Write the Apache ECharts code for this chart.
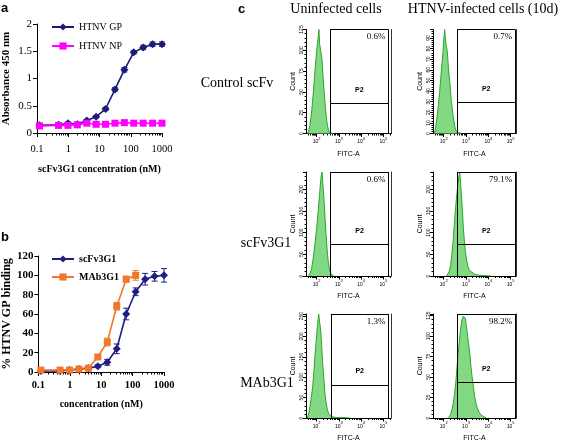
<!DOCTYPE html>
<html><head><meta charset="utf-8">
<script src="https://cdn.jsdelivr.net/npm/echarts@6/dist/echarts.min.js"></script>
<style>html,body{margin:0;padding:0;background:#fff}#c{width:567px;height:444px}</style>
</head><body><div id="c"></div>
<script>
// ---------- Panel a data ----------
const concA = [0.12, 0.49, 0.98, 1.95, 3.9, 7.8, 15.6, 31.25, 62.5, 125, 250, 500, 1000];
const gpA = [0.14, 0.15, 0.18, 0.16, 0.23, 0.30, 0.44, 0.80, 1.16, 1.48, 1.57, 1.63, 1.63];
const gpErrA = [0.02, 0.02, 0.02, 0.02, 0.02, 0.02, 0.03, 0.03, 0.04, 0.03, 0.04, 0.04, 0.04];
const npA = [0.13, 0.14, 0.14, 0.15, 0.18, 0.16, 0.16, 0.18, 0.19, 0.18, 0.18, 0.18, 0.18];
const npErrA = [0.01, 0.01, 0.01, 0.01, 0.01, 0.01, 0.01, 0.01, 0.01, 0.01, 0.01, 0.01, 0.01];
// ---------- Panel b data ----------
const concB = [0.12, 0.49, 0.98, 1.95, 3.9, 7.8, 15.6, 31.25, 62.5, 125, 250, 500, 1000];
const scfvB = [1, 1, 2, 3, 4, 6, 10, 24, 60, 83, 96, 99, 100];
const scfvErrB = [1, 1, 1, 1, 1, 1.5, 3, 5, 6, 4, 6, 5, 7];
const concMab = [0.12, 0.49, 0.98, 1.95, 3.9, 7.8, 15.6, 31.25, 62.5, 125];
const mabB = [2, 2, 2, 3, 4, 15.5, 31, 68, 96, 100];
const mabErrB = [1, 1, 1, 1, 1, 2, 4, 4, 3, 5];
const doseTicks = [0.1, 1, 10, 100, 1000];
// ---------- Panel c data (FITC-A, count) ----------
const ctrlUninf = [[38,0],[44,4],[50,10],[60,28],[71,50],[85,78],[100,99],[112,112],[120,118],[126,125],[135,108],[150,100],[170,91],[200,62],[234,38],[270,20],[302,10],[340,4],[372,1],[450,2],[562,0]];
const ctrlInf = [[37,0],[42,4],[47,11],[56,24],[66,40],[79,60],[93,77],[102,90],[110,98],[120,88],[132,82],[145,77],[165,60],[186,49],[220,30],[263,17],[310,7],[363,2],[450,1],[617,0]];
const scfvUninf = [[42,1],[50,6],[59,17],[70,42],[83,72],[100,112],[117,150],[135,190],[151,220],[160,232],[174,240],[190,210],[214,174],[240,130],[263,95],[295,60],[331,33],[380,14],[437,5],[500,2],[589,0]];
const scfvInf = [[132,0],[155,5],[180,12],[204,25],[230,48],[263,80],[295,115],[331,150],[380,185],[437,213],[480,230],[525,240],[570,215],[617,189],[690,150],[759,111],[850,80],[933,56],[1080,35],[1230,21],[1480,12],[1738,8],[2500,4],[3467,2],[6000,1],[13490,0]];
const mabUninf = [[38,0],[44,12],[50,29],[57,50],[66,77],[74,110],[83,151],[95,190],[107,224],[115,240],[123,255],[135,235],[151,216],[168,175],[186,134],[210,95],[234,61],[265,38],[302,20],[350,10],[398,6],[500,3],[794,1],[1500,1],[3162,0]];
const mabInf = [[166,1],[200,4],[234,10],[270,18],[309,30],[355,46],[407,67],[460,83],[525,99],[590,111],[661,120],[740,124],[813,126],[870,124],[933,122],[1040,112],[1148,103],[1300,91],[1479,79],[1650,64],[1862,51],[2150,38],[2455,26],[2800,18],[3236,12],[3900,7],[4571,4],[6000,2],[8128,0]];
const facsTicks = [100, 1000, 10000, 100000];
const gatePct = ['0.6%', '0.7%', '0.6%', '79.1%', '1.3%', '98.2%'];
const gateLeft = [400, 407, 427, 407, 437, 407];
const gateLevel = [36, 29.4, 73.5, 73.5, 81.5, 43.4];
const countMax = [125, 98, 240, 240, 255, 127];
const countStep = [25, 10, 50, 50, 50, 25];
const rowNames = ['Control scFv', 'scFv3G1', 'MAb3G1'];
const colNames = ['Uninfected cells', 'HTNV-infected cells (10d)'];

const SERIF = '"Liberation Serif","Times New Roman",serif';
const SANS = '"Liberation Sans",Arial,sans-serif';
const grids = [], xAxes = [], yAxes = [], series = [], graphics = [];

function minorLog(lo, hi) {
  const out = [];
  for (let e = lo; e < hi; e++) for (let m = 2; m <= 9; m++) out.push(+(m * Math.pow(10, e)).toPrecision(6));
  return out;
}
function errSeries(xs, ys, es, color, xi, yi) {
  return {
    type: 'custom', xAxisIndex: xi, yAxisIndex: yi, silent: true, z: 3,
    data: xs.map((x, i) => [x, ys[i] - es[i], ys[i] + es[i]]),
    encode: { x: 0, y: [1, 2] },
    renderItem: function (params, api) {
      const x = api.value(0), lo = api.value(1), hi = api.value(2);
      const p1 = api.coord([x, lo]), p2 = api.coord([x, hi]); const w = 3;
      const st = { stroke: color, lineWidth: 1 };
      return { type: 'group', children: [
        { type: 'line', shape: { x1: p1[0], y1: p1[1], x2: p2[0], y2: p2[1] }, style: st },
        { type: 'line', shape: { x1: p1[0] - w, y1: p1[1], x2: p1[0] + w, y2: p1[1] }, style: st },
        { type: 'line', shape: { x1: p2[0] - w, y1: p2[1], x2: p2[0] + w, y2: p2[1] }, style: st }
      ] };
    }
  };
}
function addDose(cfg) {
  const gi = grids.length;
  grids.push({ left: cfg.left, top: cfg.top, width: cfg.width, height: cfg.height });
  const xi = xAxes.length;
  xAxes.push({
    type: 'log', gridIndex: gi, min: 0.1, max: 1000,
    axisLine: { lineStyle: { color: '#000', width: 1 } },
    axisTick: { customValues: doseTicks, length: 4, lineStyle: { color: '#000' } },
    axisLabel: { customValues: doseTicks, formatter: v => String(v), color: '#000', fontFamily: SERIF, fontSize: 10.5, fontWeight: cfg.bold ? 'bold' : 'normal', margin: cfg.labMargin },
    splitLine: { show: false },
    name: cfg.xname, nameLocation: 'middle', nameGap: cfg.xnameGap,
    nameTextStyle: { fontFamily: SERIF, fontSize: 10, fontWeight: 'bold', color: '#000' }
  });
  xAxes.push({
    type: 'log', gridIndex: gi, min: 0.1, max: 1000, position: 'bottom',
    axisLine: { show: false }, axisTick: { customValues: minorLog(-1, 3), length: 2.5, lineStyle: { color: '#000' } },
    axisLabel: { show: false }, splitLine: { show: false }
  });
  const yi = yAxes.length;
  yAxes.push({
    type: 'value', gridIndex: gi, min: 0, max: cfg.ymax, interval: cfg.yint,
    axisLine: { show: true, lineStyle: { color: '#000' } },
    axisTick: { show: true, length: 4, lineStyle: { color: '#000' } },
    axisLabel: { color: '#000', fontFamily: SERIF, fontSize: 11, fontWeight: cfg.bold ? 'bold' : 'normal', margin: 5 },
    splitLine: { show: false },
    name: cfg.yname, nameLocation: 'middle', nameGap: cfg.ynameGap,
    nameTextStyle: { fontFamily: SERIF, fontSize: cfg.ynameSize, fontWeight: 'bold', color: '#000' }
  });
  cfg.lines.forEach(L => {
    series.push(errSeries(L.x, L.y, L.e, L.color, xi, yi));
    series.push({
      type: 'line', name: L.name, xAxisIndex: xi, yAxisIndex: yi, z: 4,
      data: L.x.map((x, i) => [x, L.y[i]]),
      symbol: L.symbol, symbolSize: L.size, showSymbol: true,
      lineStyle: { color: L.color, width: 1.6 }, itemStyle: { color: L.color }
    });
  });
}
addDose({
  left: 37, top: 24, width: 125, height: 109, ymax: 2, yint: 0.5, bold: false, labMargin: 11,
  xname: 'scFv3G1 concentration (nM)', xnameGap: 31, yname: 'Absorbance 450 nm', ynameGap: 25, ynameSize: 11,
  lines: [
    { name: 'HTNV GP', x: concA, y: gpA, e: gpErrA, color: '#1b1b7a', symbol: 'diamond', size: 8 },
    { name: 'HTNV NP', x: concA, y: npA, e: npErrA, color: '#ff00ff', symbol: 'rect', size: 7 }
  ]
});
addDose({
  left: 37, top: 256, width: 127, height: 116, ymax: 120, yint: 20, bold: true, labMargin: 8,
  xname: 'concentration (nM)', xnameGap: 27, yname: '% HTNV GP binding', ynameGap: 24, ynameSize: 12,
  lines: [
    { name: 'scFv3G1', x: concB, y: scfvB, e: scfvErrB, color: '#1e1e84', symbol: 'diamond', size: 8 },
    { name: 'MAb3G1', x: concMab, y: mabB, e: mabErrB, color: '#f07828', symbol: 'rect', size: 7 }
  ]
});

const facsData = [ctrlUninf, ctrlInf, scfvUninf, scfvInf, mabUninf, mabInf];
const colLeft = [306, 433], colWidth = [85, 83], colMax = [220000, 175000], gateRight = [170000, 160000];
const rowTop = [29.5, 172, 314];
facsData.forEach((d, k) => {
  const r = Math.floor(k / 2), c = k % 2;
  const gi = grids.length;
  grids.push({ left: colLeft[c], top: rowTop[r], width: colWidth[c], height: 104 });
  const xi = xAxes.length;
  xAxes.push({
    type: 'log', gridIndex: gi, min: 33, max: colMax[c],
    axisLine: { lineStyle: { color: '#000', width: 1 } },
    axisTick: { customValues: facsTicks, length: 3.5, lineStyle: { color: '#000' } },
    axisLabel: {
      customValues: facsTicks, margin: 3, color: '#000',
      formatter: v => '{b|10}{s|' + Math.round(Math.log10(v)) + '}',
      rich: { b: { fontSize: 5, fontFamily: SANS, lineHeight: 8, verticalAlign: 'bottom' }, s: { fontSize: 4, fontFamily: SANS, lineHeight: 8, verticalAlign: 'top' } }
    },
    splitLine: { show: false },
    name: 'FITC-A', nameLocation: 'middle', nameGap: 17,
    nameTextStyle: { fontFamily: SANS, fontSize: 7, color: '#000' }
  });
  xAxes.push({
    type: 'log', gridIndex: gi, min: 33, max: colMax[c], position: 'bottom',
    axisLine: { show: false }, axisTick: { customValues: minorLog(1, 6).filter(v => v > 33 && v < colMax[c]), length: 2, lineStyle: { color: '#000' } },
    axisLabel: { show: false }, splitLine: { show: false }
  });
  const yi = yAxes.length;
  const ym = countMax[k], ys = countStep[k];
  yAxes.push({
    type: 'value', gridIndex: gi, min: 0, max: ym, interval: ys,
    axisLine: { show: true, lineStyle: { color: '#000' } },
    axisTick: { show: true, length: 3, lineStyle: { color: '#000' } },
    minorTick: { show: true, splitNumber: 5, length: 1.5, lineStyle: { color: '#000' } },
    axisLabel: { rotate: 90, fontSize: 5, fontFamily: SANS, color: '#000', margin: 2, showMaxLabel: ym % ys === 0 },
    splitLine: { show: false },
    name: 'Count', nameLocation: 'middle', nameGap: 9,
    nameTextStyle: { fontFamily: SANS, fontSize: 7, color: '#000' }
  });
  yAxes.push({
    type: 'value', gridIndex: gi, position: 'right', min: 0, max: ym,
    axisLine: { show: true, lineStyle: { color: '#333', width: 1 } },
    axisTick: { show: false }, axisLabel: { show: false }, splitLine: { show: false }
  });
  const gl = gateLeft[k], gr = gateRight[c], gy = gateLevel[k];
  const ls = { color: '#000', width: 1, type: 'solid' };
  series.push({
    type: 'line', xAxisIndex: xi, yAxisIndex: yi, data: d, showSymbol: false, silent: true,
    lineStyle: { color: '#2aa52a', width: 1 }, areaStyle: { color: '#83d983', opacity: 1 },
    markArea: {
      silent: true,
      itemStyle: { color: 'rgba(0,0,0,0)' },
      label: { show: true, position: 'insideTopRight', distance: 3, formatter: gatePct[k], fontFamily: SERIF, fontSize: 9, color: '#000' },
      data: [[{ xAxis: gl, yAxis: 0 }, { xAxis: gr, yAxis: ym }]]
    },
    markLine: {
      silent: true, symbol: 'none', animation: false,
      lineStyle: ls,
      label: { show: false },
      data: [
        [{ coord: [gl, 0] }, { coord: [gl, ym] }],
        [{ coord: [gr, 0] }, { coord: [gr, ym] }],
        [{ coord: [gl, ym] }, { coord: [gr, ym] }],
        [{ coord: [gl, gy], label: { show: true, formatter: 'P2', position: 'insideMiddleTop', distance: 10, fontFamily: SANS, fontSize: 7, fontWeight: 'bold', color: '#000' } }, { coord: [gr, gy] }]
      ]
    }
  });
});

function txt(t, x, y, size, family, weight, align) {
  graphics.push({ type: 'text', x: x, y: y, style: { text: t, fontSize: size, fontFamily: family, fontWeight: weight || 'normal', fill: '#000', align: align || 'center', verticalAlign: 'middle' } });
}
txt('a', 1, 8, 13, SANS, 'bold', 'left');
txt('b', 1, 237, 13, SANS, 'bold', 'left');
txt('c', 238, 9, 13, SANS, 'bold', 'left');
txt(colNames[0], 336, 9, 14, SERIF);
txt(colNames[1], 483, 9, 14, SERIF);
txt(rowNames[0], 237, 83, 14, SERIF);
txt(rowNames[1], 266, 243, 14, SERIF);
txt(rowNames[2], 267, 383, 14, SERIF);

const chart = echarts.init(document.getElementById('c'));
chart.setOption({
  animation: false,
  backgroundColor: '#fff',
  grid: grids, xAxis: xAxes, yAxis: yAxes, series: series, graphic: graphics,
  legend: [
    { data: ['HTNV GP', 'HTNV NP'], orient: 'vertical', left: 46, top: 17, itemWidth: 22, itemHeight: 9, itemGap: 9,
      textStyle: { fontFamily: SERIF, fontSize: 10, color: '#000' }, selectedMode: false },
    { data: ['scFv3G1', 'MAb3G1'], orient: 'vertical', left: 46, top: 249, itemWidth: 22, itemHeight: 9, itemGap: 8,
      textStyle: { fontFamily: SERIF, fontSize: 10, fontWeight: 'bold', color: '#000' }, selectedMode: false }
  ]
});
</script></body></html>
